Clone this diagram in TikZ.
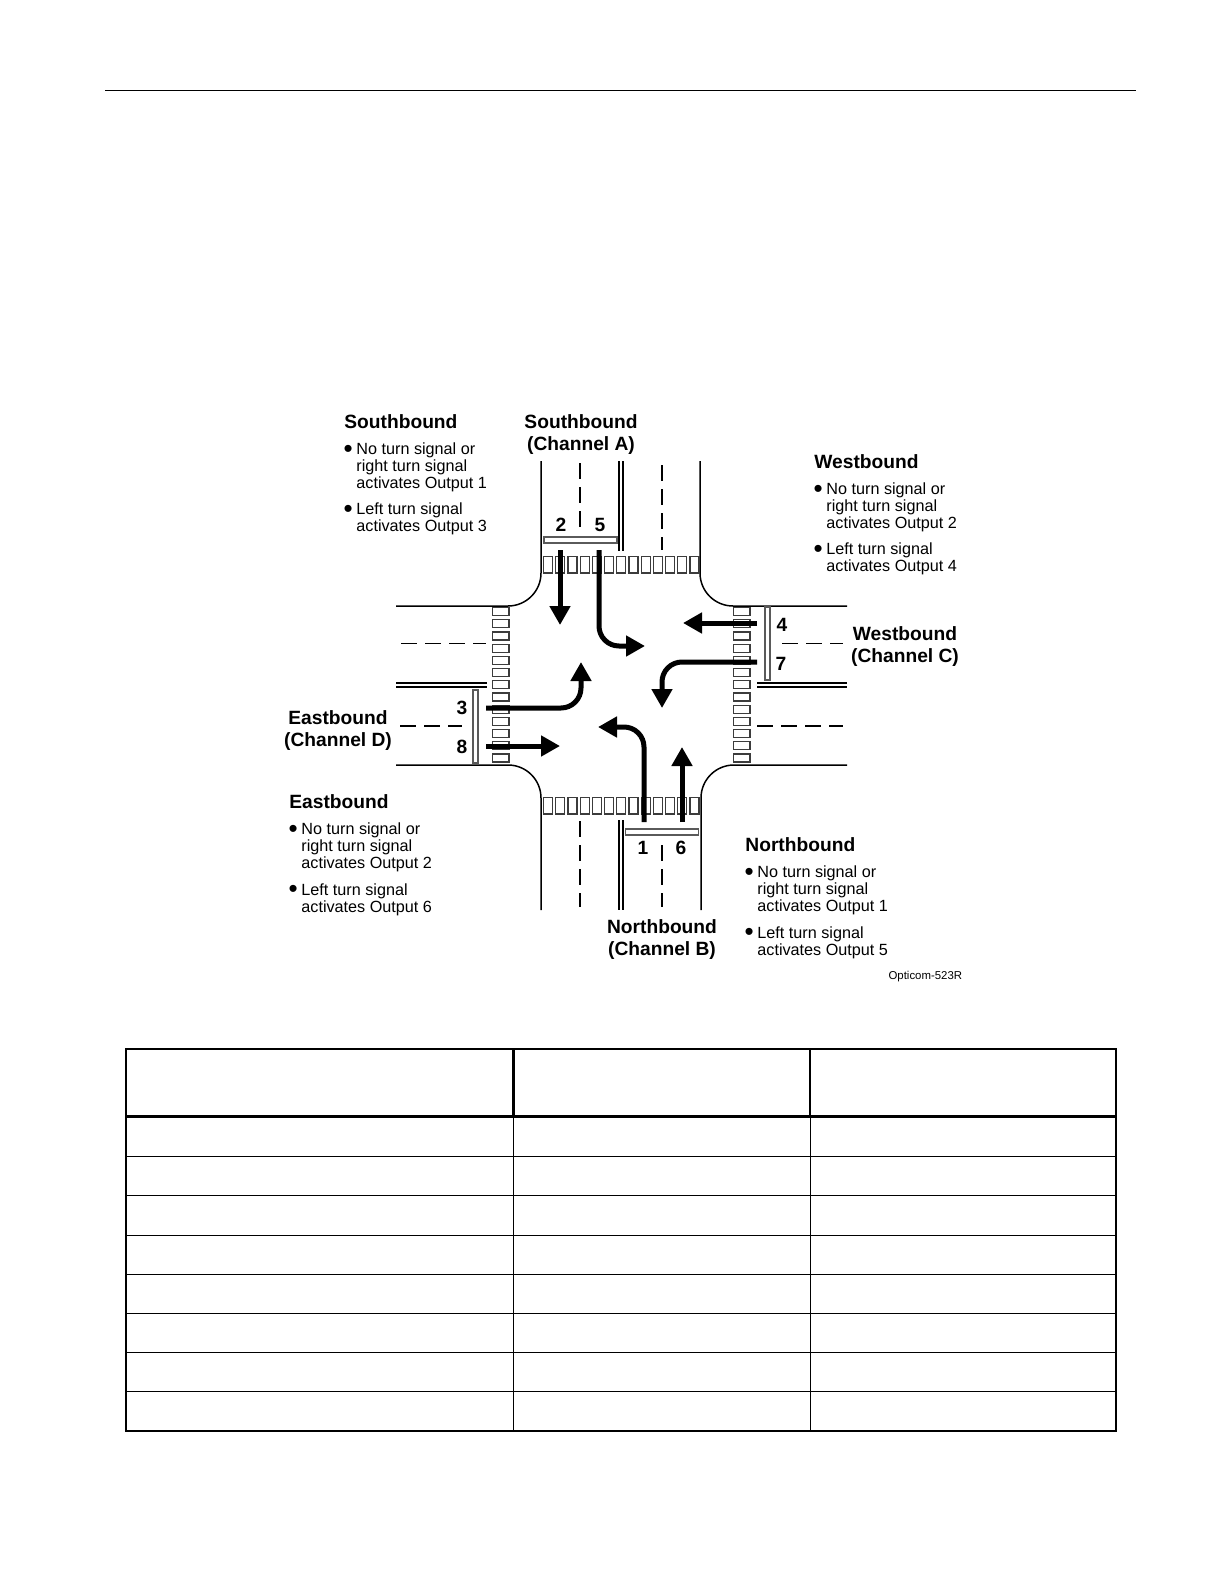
\documentclass[tikz,border=0pt]{standalone}
\usepackage{fontspec}
\setsansfont{Liberation Sans}
\usepackage{xcolor}
\usetikzlibrary{positioning, arrows.meta}
\definecolor{walkcolor}{RGB}{60,60,60}
\definecolor{barcolor}{RGB}{90,90,90}
\newcommand{\notebullet}{\makebox[6pt][l]{\hspace*{-0.4pt}\raisebox{-1.4pt}{\fontsize{13}{8}\selectfont\textbullet}}}
\newcommand{\turnnotes}[2]{%
    \notebullet No turn signal or\\
    \hspace*{6pt}right turn signal\\
    \hspace*{6pt}activates Output #1\\[4.7pt]
    \notebullet Left turn signal\\
    \hspace*{6pt}activates Output #2%
}

\begin{document}
\begin{tikzpicture}[
    x=0.5pt,
    y=-0.5pt,
    font=\sffamily,
    roadline/.style={line width=0.75pt, line cap=butt},
    lanedash/.style={line width=0.7pt, dash pattern=on 8pt off 4pt},
    walkbox/.style={draw=walkcolor, line width=0.6pt, fill=white},
    sensorbar/.style={draw=barcolor, line width=0.7pt, fill=white},
    moveline/.style={-{Triangle[length=9.5pt, width=10pt]}, line width=2.5pt, rounded corners=10pt},
    headtext/.style={font=\sffamily\fontsize{9.6}{11}\selectfont\bfseries, inner sep=0pt, anchor=west},
    chantext/.style={font=\sffamily\fontsize{9.6}{11}\selectfont\bfseries, inner sep=0pt, align=center},
    listtext/.style={font=\sffamily\fontsize{8.1}{8.5}\selectfont, inner sep=0pt, align=left},
    numtext/.style={font=\sffamily\fontsize{9.6}{11}\selectfont\bfseries, inner sep=0pt},
    tablebold/.style={line width=1.1pt},
    tablethin/.style={line width=0.5pt}
]
\useasboundingbox (0,0) rectangle (1224,1584);
\fill [white] (0,0) rectangle (1224,1584);

%% PAGE RULE %%
\draw [line width=0.5pt] (105,91) -- (1136,91);

%% ROAD EDGES %%
\draw [roadline, rounded corners=16.5pt] (396,606) -| (541,461);
\draw [roadline, rounded corners=16.5pt] (847,606) -| (700,461);
\draw [roadline, rounded corners=16.5pt] (396,765) -| (541,910);
\draw [roadline, rounded corners=16.5pt] (847,765) -| (701,910);

%% MEDIAN LINES %%
\draw [roadline] (619,461) -- (619,551);
\draw [roadline] (623,461) -- (623,551);
\draw [roadline] (619,820) -- (619,910);
\draw [roadline] (623,820) -- (623,910);
\draw [roadline] (396,683) -- (487,683);
\draw [roadline] (396,687) -- (487,687);
\draw [roadline] (757,683) -- (847,683);
\draw [roadline] (757,687) -- (847,687);

%% LANE DASHES %%
\draw [lanedash] (580,463) -- (580,527);
\draw [lanedash] (662,465) -- (662,550);
\draw [lanedash] (580,821) -- (580,907);
\draw [lanedash] (662,845) -- (662,907);
\draw [lanedash] (401,643.5) -- (486,643.5);
\draw [lanedash] (400,726) -- (462,726);
\draw [lanedash] (782,643.5) -- (843,643.5);
\draw [lanedash] (757,726) -- (843,726);

%% CROSSWALKS %%
\foreach \i in {0,...,12} {
    \draw [walkbox] ({543.5+12.2*\i},556.5) rectangle +(9,16.5);
    \draw [walkbox] ({543.5+12.2*\i},797.5) rectangle +(9,16.5);
    \draw [walkbox] (492.5,{607.5+12.2*\i}) rectangle +(16.5,8);
    \draw [walkbox] (733.5,{607.5+12.2*\i}) rectangle +(16.5,8);
}

%% SENSOR BARS %%
\node (bar_north) [sensorbar, inner sep=0pt, minimum width=36.5pt, minimum height=3pt] at (580.5,540) {};
\node (bar_south) [sensorbar, inner sep=0pt, minimum width=36.5pt, minimum height=3pt] at (662,832) {};
\node (bar_west) [sensorbar, inner sep=0pt, minimum width=2.5pt, minimum height=36.5pt] at (475.5,726.5) {};
\node (bar_east) [sensorbar, inner sep=0pt, minimum width=2.5pt, minimum height=36.5pt] at (767.5,643.5) {};

%% NUMBERS %%
\node (num_two) [numtext] at (561,525) {2};
\node (num_five) [numtext] at (600,525) {5};
\node (num_one) [numtext] at (643,848) {1};
\node (num_six) [numtext] at (681,848) {6};
\node (num_three) [numtext] at (462,708) {3};
\node (num_eight) [numtext] at (462,747) {8};
\node (num_four) [numtext] at (782,625) {4};
\node (num_seven) [numtext] at (781,664) {7};

%% ARROWS %%
\coordinate (two_start) at (560,550);
\coordinate (two_end) at (560,625);
\coordinate (five_start) at (599,550);
\coordinate (five_end) at (645,646);
\coordinate (four_start) at (757,623);
\coordinate (four_end) at (683,623);
\coordinate (seven_start) at (757,662);
\coordinate (seven_end) at (662,708);
\coordinate (three_start) at (486,708);
\coordinate (three_end) at (581,662);
\coordinate (eight_start) at (486,746);
\coordinate (eight_end) at (560,746);
\coordinate (one_start) at (644,822);
\coordinate (one_end) at (598,727);
\coordinate (six_start) at (682,822);
\coordinate (six_end) at (682,747);

\draw [moveline] (two_start) -- (two_end);
\draw [moveline] (five_start) |- (five_end);
\draw [moveline] (four_start) -- (four_end);
\draw [moveline] (seven_start) -| (seven_end);
\draw [moveline] (three_start) -| (three_end);
\draw [moveline] (eight_start) -- (eight_end);
\draw [moveline] (one_start) |- (one_end);
\draw [moveline] (six_start) -- (six_end);

%% CHANNEL LABELS %%
\node (chan_a) [chantext] at (581,435) {Southbound\\(Channel A)};
\node (chan_b) [chantext] at (662,940) {Northbound\\(Channel B)};
\node (chan_c) [chantext] at (905,647) {Westbound\\(Channel C)};
\node (chan_d) [chantext] at (338,731) {Eastbound\\(Channel D)};

%% TURN NOTES %%
\node (south_title) [headtext] at (344,422) {Southbound};
\node (south_notes) [listtext, below right=6.5pt and 0pt of south_title.south west] {\turnnotes{1}{3}};

\node (west_title) [headtext] at (814,462) {Westbound};
\node (west_notes) [listtext, below right=6.5pt and 0pt of west_title.south west] {\turnnotes{2}{4}};

\node (east_title) [headtext] at (289,802) {Eastbound};
\node (east_notes) [listtext, below right=6.5pt and 0pt of east_title.south west] {\turnnotes{2}{6}};

\node (north_title) [headtext] at (745,845) {Northbound};
\node (north_notes) [listtext, below right=6.5pt and 0pt of north_title.south west] {\turnnotes{1}{5}};

\node (fig_code) [inner sep=0pt, anchor=east, font=\sffamily\fontsize{5.7}{7}\selectfont] at (962.5,976.5) {Opticom-523R};

%% EMPTY TABLE %%
\foreach \rowy in {1156,1195,1235,1274,1313,1352,1391} {
    \draw [tablethin] (126,\rowy) -- (1116,\rowy);
}
\draw [tablethin] (513.5,1116) -- (513.5,1431);
\draw [tablethin] (810,1116) -- (810,1431);
\draw [tablebold] (513.5,1049) -- (513.5,1116);
\draw [tablebold] (810,1049) -- (810,1116);
\draw [line width=1.3pt] (126,1116.5) -- (1116,1116.5);
\draw [tablebold] (126,1049) rectangle (1116,1431);

\end{tikzpicture}
\end{document}
